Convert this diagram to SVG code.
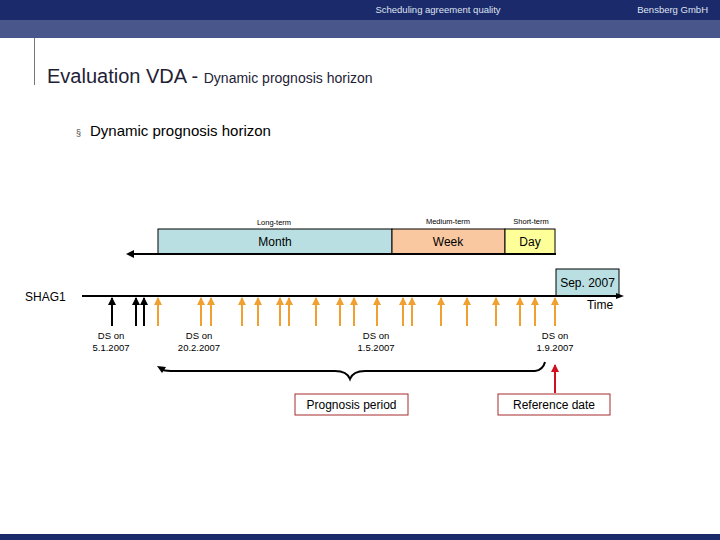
<svg xmlns="http://www.w3.org/2000/svg" width="720" height="540" viewBox="0 0 720 540">
<style>
text{font-family:"Liberation Sans",Arial,sans-serif;fill:#000}
.hdr{fill:#dfe3f0;font-size:9.5px}
.small{font-size:7.5px}
.lbl{font-size:12px}
.ds{font-size:9.5px}
.bar{stroke:#000;stroke-width:1}
.ora{stroke:#f0a030;stroke-width:2}
.blk{stroke:#000;stroke-width:2}
.rbox{fill:#fff;stroke:#a52a2a;stroke-width:1}
</style>
<defs>
<marker id="ao" markerWidth="8" markerHeight="8" refX="4" refY="1" orient="0" markerUnits="userSpaceOnUse"><polygon points="4,0 8,8 0,8" fill="#f0a030"/></marker>
<marker id="ab" markerWidth="8" markerHeight="8" refX="4" refY="1" orient="0" markerUnits="userSpaceOnUse"><polygon points="4,0 8,8 0,8" fill="#000"/></marker>
<marker id="ar" markerWidth="8" markerHeight="8" refX="4" refY="1" orient="0" markerUnits="userSpaceOnUse"><polygon points="4,0 8,8 0,8" fill="#d01020"/></marker>
</defs>
<g id="header">
<rect x="0" y="0" width="720" height="20" fill="#1b2a6b"/>
<rect x="0" y="20" width="720" height="18" fill="#48568c"/>
<text class="hdr" x="438" y="13" text-anchor="middle">Scheduling agreement quality</text>
<text class="hdr" x="708" y="13" text-anchor="end">Bensberg GmbH</text>
<line x1="34.5" y1="38" x2="34.5" y2="85" stroke="#777" stroke-width="1"/>
<text x="47" y="83" style="font-size:20px;fill:#1e2236">Evaluation VDA - <tspan style="font-size:14px">Dynamic prognosis horizon</tspan></text>
<rect x="0" y="534" width="720" height="6" fill="#1b2a6b"/>
</g>
<g id="bullet"><text x="76" y="136" style="font-size:9px;fill:#444">§</text><text x="90" y="136" style="font-size:15px">Dynamic prognosis horizon</text></g>
<g id="horizon">
<text class="small" x="274" y="225" text-anchor="middle">Long-term</text>
<text class="small" x="448" y="224" text-anchor="middle">Medium-term</text>
<text class="small" x="531" y="224" text-anchor="middle">Short-term</text>
<rect id="month" x="158" y="229" width="234" height="25" fill="#b9dfe2" class="bar"/>
<rect id="week" x="392" y="229" width="113" height="25" fill="#f9c8a0" class="bar"/>
<rect id="day" x="505" y="229" width="50" height="25" fill="#ffff9a" class="bar"/>
<text class="lbl" x="275" y="246" text-anchor="middle">Month</text>
<text class="lbl" x="448" y="246" text-anchor="middle">Week</text>
<text class="lbl" x="530" y="246" text-anchor="middle">Day</text>
<line x1="134" y1="254" x2="556" y2="254" stroke="#000" stroke-width="2"/>
<polygon points="126,254 134,250 134,258" fill="#000"/>
</g>
<g id="sep"><rect x="556" y="269" width="63" height="27" fill="#b9dfe2" stroke="#000" stroke-width="1"/><text class="lbl" x="587.5" y="287" text-anchor="middle">Sep. 2007</text></g>
<g id="axis">
<text class="lbl" x="25" y="301">SHAG1</text>
<line x1="82" y1="296" x2="620" y2="296" stroke="#000" stroke-width="2"/>
<polygon points="624,296 616,293 616,299" fill="#000"/>
<text class="lbl" x="600" y="309" text-anchor="middle">Time</text>
</g>
<g id="connectors">
<line class="blk" x1="112" y1="326" x2="112" y2="298" marker-end="url(#ab)"/>
<line class="blk" x1="136" y1="326" x2="136" y2="298" marker-end="url(#ab)"/>
<line class="blk" x1="144" y1="326" x2="144" y2="298" marker-end="url(#ab)"/>
<g class="ora">
<line x1="158" y1="326" x2="158" y2="298" marker-end="url(#ao)"/>
<line x1="201" y1="326" x2="201" y2="298" marker-end="url(#ao)"/>
<line x1="211" y1="326" x2="211" y2="298" marker-end="url(#ao)"/>
<line x1="242" y1="326" x2="242" y2="298" marker-end="url(#ao)"/>
<line x1="258" y1="326" x2="258" y2="298" marker-end="url(#ao)"/>
<line x1="280" y1="326" x2="280" y2="298" marker-end="url(#ao)"/>
<line x1="289" y1="326" x2="289" y2="298" marker-end="url(#ao)"/>
<line x1="316" y1="326" x2="316" y2="298" marker-end="url(#ao)"/>
<line x1="340" y1="326" x2="340" y2="298" marker-end="url(#ao)"/>
<line x1="354" y1="326" x2="354" y2="298" marker-end="url(#ao)"/>
<line x1="377" y1="326" x2="377" y2="298" marker-end="url(#ao)"/>
<line x1="403" y1="326" x2="403" y2="298" marker-end="url(#ao)"/>
<line x1="412" y1="326" x2="412" y2="298" marker-end="url(#ao)"/>
<line x1="441" y1="326" x2="441" y2="298" marker-end="url(#ao)"/>
<line x1="467" y1="326" x2="467" y2="298" marker-end="url(#ao)"/>
<line x1="496" y1="326" x2="496" y2="298" marker-end="url(#ao)"/>
<line x1="520" y1="326" x2="520" y2="298" marker-end="url(#ao)"/>
<line x1="535" y1="326" x2="535" y2="298" marker-end="url(#ao)"/>
<line x1="555" y1="326" x2="555" y2="298" marker-end="url(#ao)"/>
</g>
<path d="M163,370 Q166,371 175,371 L335,371 Q347,371 350,379 Q353,371 365,371 L535,371 Q543,370 545,362" fill="none" stroke="#000" stroke-width="2"/>
<polygon points="157,366 166,367 162,373" fill="#000"/>
<line x1="555" y1="393" x2="555" y2="365" stroke="#d01020" stroke-width="2" marker-end="url(#ar)"/>
</g>
<g id="ds-labels">
<text class="ds" x="111" y="339" text-anchor="middle">DS on</text><text class="ds" x="111" y="351" text-anchor="middle">5.1.2007</text>
<text class="ds" x="199" y="339" text-anchor="middle">DS on</text><text class="ds" x="199" y="351" text-anchor="middle">20.2.2007</text>
<text class="ds" x="376" y="339" text-anchor="middle">DS on</text><text class="ds" x="376" y="351" text-anchor="middle">1.5.2007</text>
<text class="ds" x="555" y="339" text-anchor="middle">DS on</text><text class="ds" x="555" y="351" text-anchor="middle">1.9.2007</text>
</g>
<g id="prognosis"><rect class="rbox" x="295" y="394" width="113" height="21"/><text class="lbl" x="351.5" y="409" text-anchor="middle">Prognosis period</text></g>
<g id="refdate"><rect class="rbox" x="498" y="394" width="112" height="21"/><text class="lbl" x="554" y="409" text-anchor="middle">Reference date</text></g>
</svg>
